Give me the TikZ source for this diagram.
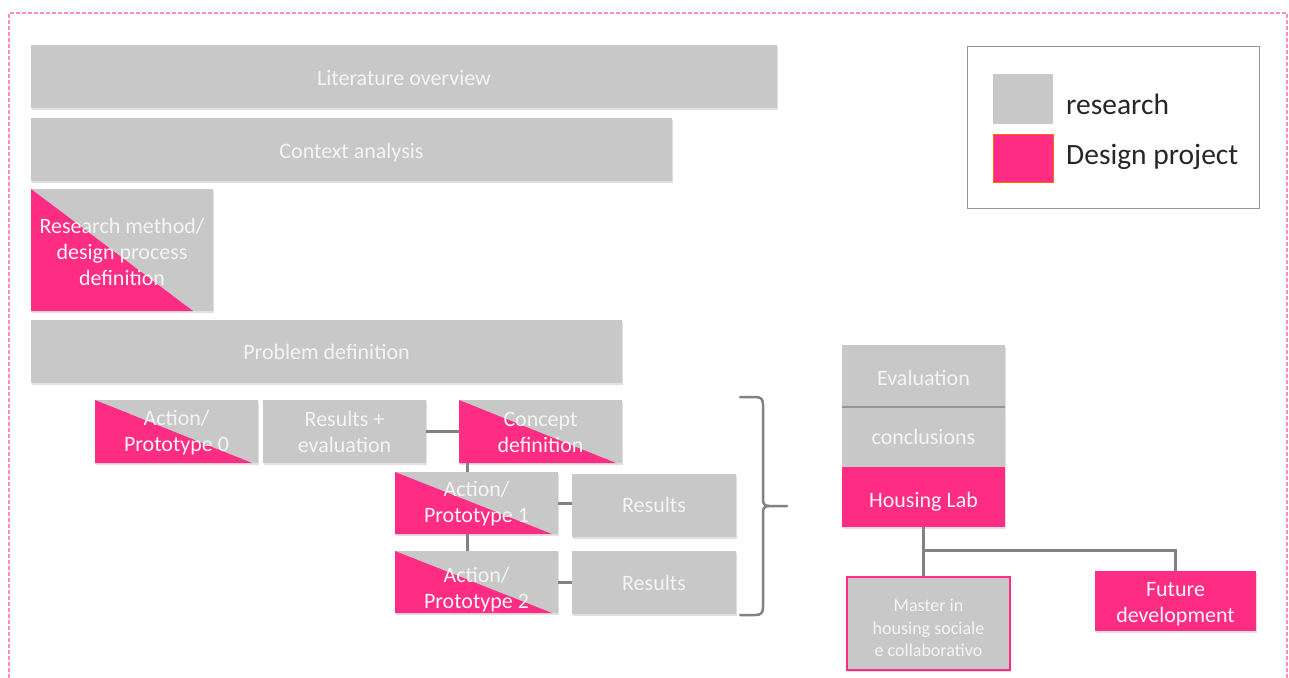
\documentclass[tikz,border=0pt]{standalone}
\usepackage{fontspec}
\setmainfont{Carlito}
\usetikzlibrary{shadows}
\definecolor{boxgray}{RGB}{200,200,200}
\definecolor{hotpink}{RGB}{255,44,132}
\definecolor{linegray}{RGB}{130,130,130}
\definecolor{sepgray}{RGB}{150,150,150}
\definecolor{boxtext}{RGB}{244,244,244}
\definecolor{framepink}{RGB}{255,140,195}
\definecolor{legendline}{RGB}{150,150,150}
\newcommand\tx[2][3pt]{\raisebox{-#1}[\height][\depth]{\begin{tabular}{@{}c@{}}#2\end{tabular}}}
\begin{document}
\begin{tikzpicture}[x=1pt,y=-1pt,
  gbox/.style={fill=boxgray, draw=none, text=boxtext, inner sep=0pt,
    font=\fontsize{22}{26}\selectfont,
    drop shadow={shadow xshift=1pt, shadow yshift=-2pt, fill=black, opacity=0.12}},
  pbox/.style={gbox, fill=hotpink},
  half/.style={path picture={\fill[hotpink] (path picture bounding box.north west) -- (path picture bounding box.south west) -- ([xshift=-#1]path picture bounding box.south east) -- cycle;}},
  half/.default=6pt,
  conn/.style={draw=linegray, line width=3pt},
  legtext/.style={anchor=west, inner sep=0pt, text=black!85, font=\fontsize{29.5}{34}\selectfont}
]
\useasboundingbox (0,0) rectangle (1289,677);
% frame
\draw[framepink, line width=1.5pt, dash pattern=on 4pt off 2pt] (9,690) -- (9,13) -- (1287,13) -- (1287,690);

% research boxes
\node[gbox, minimum width=746pt, minimum height=63pt] (lit) at (404,76.5) {\tx[4pt]{Literature overview}};
\node[gbox, minimum width=641pt, minimum height=63pt] (ctx) at (351.5,149.5) {\tx[4pt]{Context analysis}};
\node[gbox, half=20pt, minimum width=182pt, minimum height=122pt] (rm) at (122,250) {\tx[4pt]{Research method/\\design process\\definition}};
\node[gbox, minimum width=591pt, minimum height=63pt] (pd) at (326.5,351.5) {\tx{Problem definition}};

\node[gbox, half, minimum width=163pt, minimum height=63pt] (ap0) at (176.5,431.5) {\tx[2pt]{Action/\\Prototype 0}};
\node[gbox, minimum width=163pt, minimum height=63pt] (re) at (344.5,431.5) {\tx{Results +\\evaluation}};
\node[gbox, half, minimum width=163pt, minimum height=63pt] (cd) at (540.5,431.5) {\tx{Concept\\definition}};
\node[gbox, half, minimum width=163pt, minimum height=62pt] (ap1) at (476.5,503) {\tx[1pt]{Action/\\Prototype 1}};
\node[gbox, minimum width=164pt, minimum height=63pt] (r1) at (654,505.5) {\tx[2pt]{Results}};
\node[gbox, half, minimum width=163pt, minimum height=62pt] (ap2) at (476.5,582) {\tx[8.5pt]{Action/\\Prototype 2}};
\node[gbox, minimum width=164pt, minimum height=63pt] (r2) at (654,582.5) {\tx{Results}};

% connectors
\draw[conn] (re.east) -- (cd.west);
\draw[conn] ([xshift=9pt]cd.south west) -- ([xshift=9pt]cd.south west |- ap1.north);
\draw[conn] ([xshift=73pt]ap1.south west) -- ([xshift=73pt]ap1.south west |- ap2.north);
\draw[conn] (ap1.east) -- (r1.west |- ap1.east);
\draw[conn] (ap2.east) -- (r2.west |- ap2.east);

% bracket
\coordinate (brtip) at (787,506);
\draw[linegray, line width=2.5pt, line cap=round]
  (740,397) -- (755,397) .. controls (761,397) and (763,399) .. (763,405)
  -- (763,500) .. controls (763,504) and (765,506) .. (769,506) -- (brtip);
\draw[linegray, line width=2.5pt, line cap=round]
  (769,506) .. controls (765,506) and (763,508) .. (763,512)
  -- (763,607) .. controls (763,613) and (761,615) .. (755,615) -- (740,615);

% right column
\node[gbox, minimum width=163pt, minimum height=62pt] (ev) at (923.5,376) {\tx[4pt]{Evaluation}};
\node[gbox, minimum width=163pt, minimum height=59pt] (con) at (923.5,437.5) {\tx[2pt]{conclusions}};
\node[pbox, minimum width=163pt, minimum height=60pt] (hl) at (923.5,497) {\tx[5pt]{Housing Lab}};
\draw[sepgray, line width=2pt] (ev.south west) -- (ev.south east);
\node[gbox, draw=hotpink, line width=1.5pt, minimum width=163pt, minimum height=93pt, font=\fontsize{18}{22.5}\selectfont] (ms) at (928.5,623.5) {\tx[6pt]{Master in\\housing sociale\\e collaborativo}};
\node[pbox, minimum width=161pt, minimum height=60pt] (fd) at (1175.5,601) {\tx[3pt]{Future\\development}};
\draw[conn] (hl.south) -- (hl.south |- ms.north);
\draw[conn] (hl.south) ++(0,23) -| (fd.north);

% legend
\node[draw=legendline, line width=1pt, minimum width=292pt, minimum height=161pt, inner sep=0pt] (leg) at (1113,127.5) {};
\node[fill=boxgray, minimum width=60pt, minimum height=50pt, inner sep=0pt] (lgr) at (1023,99) {};
\node[fill=hotpink, draw=orange!80!red, line width=1pt, minimum width=60pt, minimum height=48pt, inner sep=0pt] (lpk) at (1023,158) {};
\node[legtext] (lrt) at (1066,104) {research};
\node[legtext] (lpt) at (1066,157) {Design project};
\end{tikzpicture}
\end{document}
